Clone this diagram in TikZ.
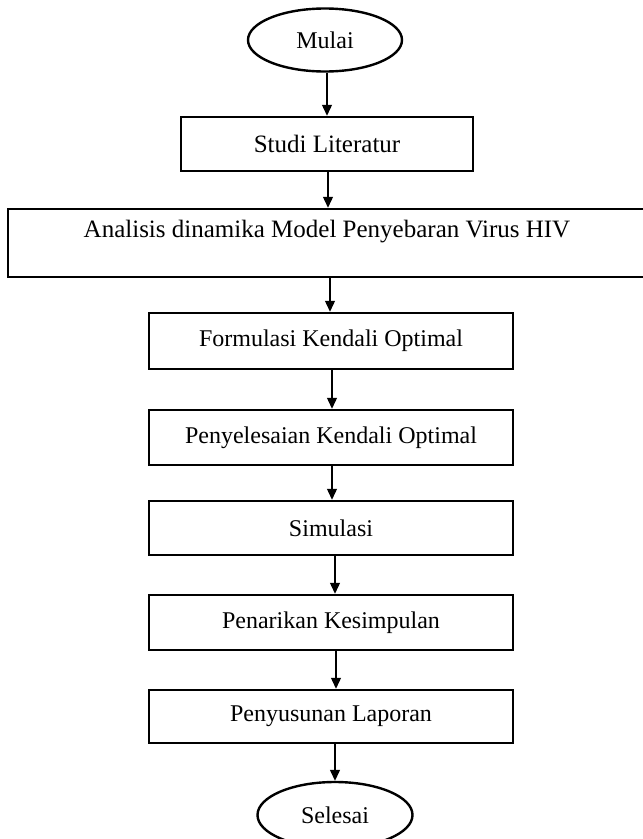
\documentclass[tikz,border=0pt]{standalone}
\usepackage{fontspec}
\setmainfont{Liberation Serif}
\usetikzlibrary{arrows.meta,shapes.geometric,positioning}
\tikzset{
  kotak/.style={draw,line width=2.5pt,minimum width=364pt,minimum height=55pt,inner sep=0pt,font=\fontsize{24}{28}\selectfont},
  oval/.style={ellipse,draw,line width=2.4pt,minimum width=154pt,minimum height=63pt,inner sep=0pt,font=\fontsize{24}{28}\selectfont},
  panah/.style={->,line width=1.3pt}
}

\begin{document}
\begin{tikzpicture}[x=1pt,y=-1pt,>={Triangle[length=11pt,width=10pt]}]
		\useasboundingbox (0,0) rectangle (643,839);

		\node[oval] (mulai) at (325,40) {Mulai};
		\node[kotak,minimum width=292pt,minimum height=54pt,font=\fontsize{25}{29}\selectfont] (studi) at (327,144) {Studi Literatur};
		\node[kotak,minimum width=638pt,minimum height=68pt,text height=17pt,text depth=29pt,font=\fontsize{25}{29}\selectfont] (analisis) at (327,243) {Analisis dinamika Model Penyebaran Virus HIV};
		\node[kotak,minimum height=56pt] (formulasi) at (331,341) {Formulasi Kendali Optimal};
		\node[kotak] (penyelesaian) at (331,437.5) {Penyelesaian Kendali Optimal};
		\node[kotak,minimum height=54pt] (simulasi) at (331,528) {Simulasi};
		\node[kotak] (penarikan) at (331,622.5) {Penarikan Kesimpulan};
		\node[kotak,minimum height=53pt] (penyusunan) at (331,716.5) {Penyusunan Laporan};
		\node[oval,minimum width=155pt,minimum height=66pt] (selesai) at (335,815) {Selesai};

		\draw[panah] (studi.north |- mulai.south) -- (studi.north);
		\draw[panah] ([xshift=1pt]studi.south) -- ([xshift=1pt]studi.south |- analisis.north);
		\draw[panah] ([xshift=-1pt]formulasi.north |- analisis.south) -- ([xshift=-1pt]formulasi.north);
		\draw[panah] ([xshift=1pt]formulasi.south) -- ([xshift=1pt]penyelesaian.north);
		\draw[panah] ([xshift=1pt]penyelesaian.south) -- ([xshift=1pt]simulasi.north);
		\draw[panah] ([xshift=4pt]simulasi.south) -- ([xshift=4pt]penarikan.north);
		\draw[panah] ([xshift=5pt]penarikan.south) -- ([xshift=5pt]penyusunan.north);
		\draw[panah] ([xshift=4pt]penyusunan.south) -- (selesai.north);
	\end{tikzpicture}
\end{document}
